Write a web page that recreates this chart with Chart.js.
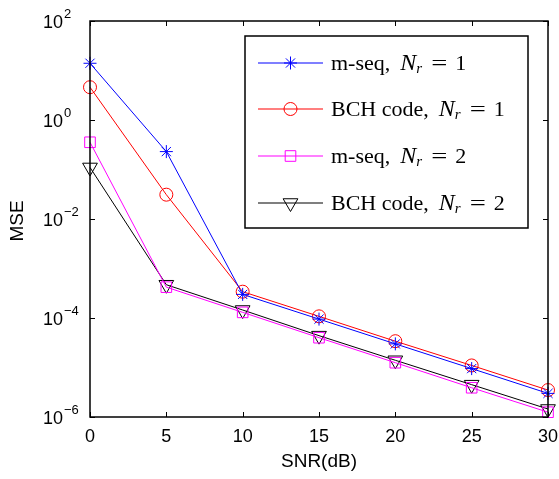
<!DOCTYPE html>
<html>
<head>
<meta charset="utf-8">
<script src="https://cdn.jsdelivr.net/npm/chart.js@4"></script>
<style>
html,body{margin:0;padding:0;background:#fff;}
canvas{display:block;}
</style>
</head>
<body>
<canvas id="c" width="559" height="479"></canvas>
<script>
// ---- data ----
const snrDb = [0, 5, 10, 15, 20, 25, 30];
const mseqNr1 = [14, 0.23, 3.0e-4, 9.5e-5, 3.0e-5, 9.5e-6, 3.0e-6];
const bchNr1  = [4.6, 0.031, 3.4e-4, 1.08e-4, 3.4e-5, 1.1e-5, 3.5e-6];
const mseqNr2 = [0.355, 4.2e-4, 1.3e-4, 4.0e-5, 1.25e-5, 3.9e-6, 1.25e-6];
const bchNr2  = [0.11, 4.7e-4, 1.45e-4, 4.4e-5, 1.4e-5, 4.5e-6, 1.45e-6];
const seriesNames = ['m-seq', 'BCH code', 'm-seq', 'BCH code'];
const seriesNr = ['1', '1', '2', '2'];
const xTicks = [0, 5, 10, 15, 20, 25, 30];
const yTicks = [1e2, 1e0, 1e-2, 1e-4, 1e-6];
const yTickExp = ['2', '0', '\u22122', '\u22124', '\u22126'];
const xTitle = 'SNR(dB)';
const yTitle = 'MSE';

const toXY = arr => arr.map((v, i) => ({x: snrDb[i], y: v}));

const colors = ['#0000ff', '#ff0000', '#ff00ff', '#000000'];
const styles = ['star', 'circle', 'rect', 'triangle'];
const radii = [6.5, 6.5, 7.5, 8.5];
const rots = [0, 0, 0, 180];
const allData = [mseqNr1, bchNr1, mseqNr2, bchNr2];

const datasets = allData.map((d, i) => ({
  label: seriesNames[i] + ', Nr = ' + seriesNr[i],
  data: toXY(d),
  borderColor: colors[i],
  backgroundColor: 'rgba(0,0,0,0)',
  borderWidth: 1,
  pointStyle: styles[i],
  pointRadius: radii[i],
  pointRotation: rots[i],
  pointBorderColor: colors[i],
  pointBackgroundColor: 'rgba(0,0,0,0)',
  pointBorderWidth: 1,
  pointHoverRadius: radii[i],
  tension: 0,
  clip: false
}));

const SANS = '"Liberation Sans", Arial, sans-serif';
const SERIF = '"Liberation Serif", "Times New Roman", serif';

const decor = {
  id: 'decor',
  afterDatasetsDraw(chart) {
    const ctx = chart.ctx;
    const a = chart.chartArea;
    const xs = chart.scales.x, ys = chart.scales.y;
    ctx.save();
    // frame
    ctx.strokeStyle = '#000';
    ctx.lineWidth = 1.5;
    ctx.strokeRect(a.left, a.top, a.right - a.left, a.bottom - a.top);
    // ticks
    ctx.lineWidth = 1;
    const tl = 5;
    xTicks.forEach(v => {
      const px = Math.round(xs.getPixelForValue(v)) + 0.5;
      ctx.beginPath();
      ctx.moveTo(px, a.bottom); ctx.lineTo(px, a.bottom - tl);
      ctx.moveTo(px, a.top); ctx.lineTo(px, a.top + tl);
      ctx.stroke();
    });
    yTicks.forEach(v => {
      const py = Math.round(ys.getPixelForValue(v)) + 0.5;
      ctx.beginPath();
      ctx.moveTo(a.left, py); ctx.lineTo(a.left + tl, py);
      ctx.moveTo(a.right, py); ctx.lineTo(a.right - tl, py);
      ctx.stroke();
    });
    // tick labels
    ctx.fillStyle = '#000';
    ctx.textBaseline = 'middle';
    ctx.textAlign = 'center';
    ctx.font = '18px ' + SANS;
    xTicks.forEach(v => {
      ctx.fillText(String(v), xs.getPixelForValue(v), a.bottom + 20);
    });
    yTicks.forEach((v, i) => {
      const py = ys.getPixelForValue(v);
      ctx.textAlign = 'left';
      ctx.font = '18px ' + SANS;
      ctx.textBaseline = 'middle';
      ctx.fillText('10', 43, py + 2);
      const w = ctx.measureText('10').width;
      ctx.font = '13px ' + SANS;
      ctx.fillText(yTickExp[i], 43 + w + 1, py - 7);
    });
    // axis titles
    ctx.font = '19px ' + SANS;
    ctx.textAlign = 'center';
    ctx.textBaseline = 'middle';
    ctx.fillText(xTitle, (a.left + a.right) / 2, 462);
    ctx.save();
    ctx.translate(18, 221);
    ctx.rotate(-Math.PI / 2);
    ctx.fillText(yTitle, 0, 0);
    ctx.restore();

    // legend
    const L = 245, T = 36, R = 528, B = 228;
    ctx.fillStyle = '#fff';
    ctx.fillRect(L, T, R - L, B - T);
    ctx.strokeStyle = '#000';
    ctx.lineWidth = 1.5;
    ctx.strokeRect(L, T, R - L, B - T);
    const rowY = [63, 109, 156, 203];
    datasets.forEach((ds, i) => {
      const y = rowY[i];
      ctx.strokeStyle = colors[i];
      ctx.fillStyle = 'rgba(0,0,0,0)';
      ctx.lineWidth = 1.2;
      ctx.beginPath();
      ctx.moveTo(258, y); ctx.lineTo(323, y);
      ctx.stroke();
      ctx.lineWidth = 1;
      Chart.helpers.drawPoint(ctx, {
        pointStyle: styles[i], radius: radii[i], rotation: rots[i], borderWidth: 1
      }, 290.5, y);
      // text
      ctx.fillStyle = '#000';
      ctx.textAlign = 'left';
      ctx.textBaseline = 'alphabetic';
      let x = 331;
      const base = y + 7;
      ctx.font = '22px ' + SERIF;
      const t1 = seriesNames[i] + ',';
      ctx.fillText(t1, x, base); x += ctx.measureText(t1).width + 10;
      const nStart = x;
      ctx.font = 'italic 24px ' + SERIF;
      ctx.fillText('N', x, base);
      ctx.font = 'italic 15px ' + SERIF;
      ctx.fillText('r', nStart + 16, base + 3);
      ctx.font = '22px ' + SERIF;
      ctx.save();
      ctx.translate(nStart + 31, base);
      ctx.scale(1.3, 1);
      ctx.fillText('=', 0, 0);
      ctx.restore();
      ctx.fillText(seriesNr[i], nStart + 55, base);
    });
    ctx.restore();
  }
};

new Chart(document.getElementById('c'), {
  type: 'line',
  data: { datasets },
  options: {
    responsive: false,
    animation: false,
    devicePixelRatio: 1,
    layout: { padding: { top: 21, right: 11, left: 0, bottom: 0 } },
    plugins: { legend: { display: false }, tooltip: { enabled: false } },
    scales: {
      x: {
        type: 'linear', min: 0, max: 30,
        ticks: { display: false },
        grid: { display: false },
        border: { display: false },
        afterFit: s => { s.height = 62; }
      },
      y: {
        type: 'logarithmic', min: 1e-6, max: 1e2,
        ticks: { display: false },
        grid: { display: false },
        border: { display: false },
        afterFit: s => { s.width = 90; }
      }
    }
  },
  plugins: [decor]
});
</script>
</body>
</html>
